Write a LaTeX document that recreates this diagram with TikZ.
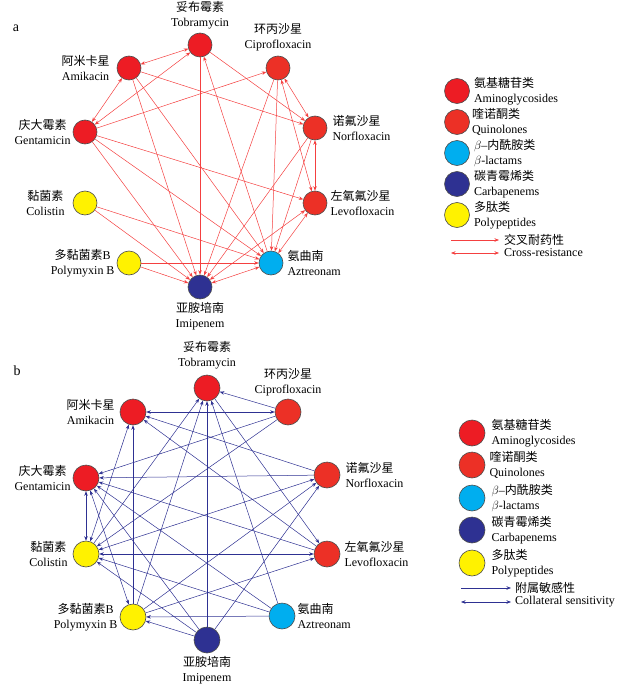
\documentclass[tikz,border=0pt]{standalone}
\usepackage{fontspec}
\setmainfont{Liberation Serif}
\newfontfamily\cjk{Noto Sans CJK SC}
\usepackage{tikz}
\usetikzlibrary{arrows.meta, positioning}
\definecolor{amino}{RGB}{237,28,36}
\definecolor{quino}{RGB}{236,48,38}
\definecolor{blact}{RGB}{0,174,239}
\definecolor{carba}{RGB}{46,49,146}
\definecolor{poly}{RGB}{255,242,0}
\definecolor{crossred}{RGB}{244,64,64}
\definecolor{sensblue}{RGB}{46,49,146}
\tikzstyle{drug} = [circle, draw=black!70, line width=0.6pt, minimum size=24pt, inner sep=0pt]
\tikzstyle{drugb} = [drug, minimum size=26pt]
\tikzstyle{lbl} = [align=center, inner sep=1pt, font=\fontsize{12}{15}\selectfont]
\tikzstyle{lblr} = [lbl, align=left]
\tikzstyle{crossarr} = [draw=crossred, line width=0.5pt, >={Stealth[length=4.5pt,width=3.5pt]}]
\tikzstyle{sensarr} = [draw=sensblue, line width=0.5pt, >={Stealth[length=4.5pt,width=3.5pt]}]

\begin{document}
\begin{tikzpicture}[x=1pt, y=-1pt]
  \useasboundingbox (0,0) rectangle (623,690);

  % 图 a：交叉耐药性
  \node[font=\fontsize{14}{14}\selectfont] (tagA) at (16,28) {a};
  \node[drug, fill=amino] (tobA) at (200,45) {};
  \node[drug, fill=quino] (cipA) at (278,68) {};
  \node[drug, fill=amino] (amiA) at (129,68) {};
  \node[drug, fill=quino] (norA) at (315,128) {};
  \node[drug, fill=amino] (genA) at (85,132) {};
  \node[drug, fill=quino] (levA) at (315,203) {};
  \node[drug, fill=poly] (colA) at (85,203) {};
  \node[drug, fill=poly] (polA) at (129,263) {};
  \node[drug, fill=blact] (aztA) at (271,263) {};
  \node[drug, fill=carba] (imiA) at (200,287) {};

  \node[lbl, above=2pt of tobA] (tobAl) {{\cjk 妥布霉素}\\Tobramycin};
  \node[lbl, above=3pt of cipA] (cipAl) {{\cjk 环丙沙星}\\Ciprofloxacin};
  \node[lbl, left=6pt of amiA] (amiAl) {{\cjk 阿米卡星}\\Amikacin};
  \node[lbl, left=1pt of genA] (genAl) {{\cjk 庆大霉素}\\Gentamicin};
  \node[lbl, left=7pt of colA] (colAl) {{\cjk 黏菌素}\\Colistin};
  \node[lbl, left=1pt of polA] (polAl) {{\cjk 多黏菌素}B\\Polymyxin B};
  \node[lbl, below=2pt of imiA] (imiAl) {{\cjk 亚胺培南}\\Imipenem};
  \node[lblr, right=3pt of aztA] (aztAl) {{\cjk 氨曲南}\\Aztreonam};
  \node[lblr, right=2pt of levA] (levAl) {{\cjk 左氧氟沙星}\\Levofloxacin};
  \node[lblr, right=4pt of norA] (norAl) {{\cjk 诺氟沙星}\\Norfloxacin};

  % 图 a 箭头
  \draw[crossarr, <->] (amiA) -- (tobA);
  \draw[crossarr, <->] (amiA) -- (genA);
  \draw[crossarr, <->] (tobA) -- (genA);
  \draw[crossarr, ->] (amiA) -- (norA);
  \draw[crossarr, ->] (amiA) -- (imiA);
  \draw[crossarr, ->] (amiA) -- (aztA);
  \draw[crossarr, ->] (tobA) -- (norA);
  \draw[crossarr, ->] (tobA) -- (imiA);
  \draw[crossarr, ->] (aztA) -- (tobA);
  \draw[crossarr, ->] (genA) -- (cipA);
  \draw[crossarr, ->] (genA) -- (levA);
  \draw[crossarr, ->] (genA) -- (imiA);
  \draw[crossarr, ->] (genA) -- (aztA);
  \draw[crossarr, <->] (cipA) -- (norA);
  \draw[crossarr, <->] (cipA) -- (levA);
  \draw[crossarr, ->] (cipA) -- (imiA);
  \draw[crossarr, ->] (cipA) -- (aztA);
  \draw[crossarr, <->] (norA) -- (levA);
  \draw[crossarr, ->] (norA) -- (imiA);
  \draw[crossarr, ->] (norA) -- (aztA);
  \draw[crossarr, <->] (levA) -- (aztA);
  \draw[crossarr, <->] (levA) -- (imiA);
  \draw[crossarr, ->] (colA) -- (imiA);
  \draw[crossarr, ->] (colA) -- (aztA);
  \draw[crossarr, ->] (polA) -- (aztA);
  \draw[crossarr, ->] (polA) -- (imiA);
  \draw[crossarr, <->] (aztA) -- (imiA);

  % 图 a 图例
  \node[drug, minimum size=25pt, fill=amino] (legA1) at (457,91) {};
  \node[drug, minimum size=25pt, fill=quino] (legA2) at (457,122) {};
  \node[drug, minimum size=25pt, fill=blact] (legA3) at (457,153) {};
  \node[drug, minimum size=25pt, fill=carba] (legA4) at (457,184) {};
  \node[drug, minimum size=25pt, fill=poly] (legA5) at (457,215) {};
  \node[lblr, right=3pt of legA1] {{\cjk 氨基糖苷类}\\Aminoglycosides};
  \node[lblr, right=1pt of legA2] {{\cjk 喹诺酮类}\\Quinolones};
  \node[lblr, right=3pt of legA3] {$\beta$–{\cjk 内酰胺类}\\$\beta$-lactams};
  \node[lblr, right=3pt of legA4] {{\cjk 碳青霉烯类}\\Carbapenems};
  \node[lblr, right=3pt of legA5] {{\cjk 多肽类}\\Polypeptides};
  \coordinate (arA1) at (451,240);
  \coordinate (arA2) at (499,240);
  \coordinate (arA3) at (451,253);
  \coordinate (arA4) at (499,253);
  \draw[crossarr, ->] (arA1) -- (arA2);
  \draw[crossarr, <->] (arA3) -- (arA4);
  \node[lbl, anchor=west] at (503,240) {\cjk 交叉耐药性};
  \node[lbl, anchor=west] at (503,253) {Cross-resistance};

  % 图 b：附属敏感性
  \node[font=\fontsize{14}{14}\selectfont] (tagB) at (17,371) {b};
  \node[drugb, fill=amino] (tobB) at (207,388) {};
  \node[drugb, fill=quino] (cipB) at (288,412) {};
  \node[drugb, fill=amino] (amiB) at (133,412) {};
  \node[drugb, fill=quino] (norB) at (327,475) {};
  \node[drugb, fill=amino] (genB) at (86,478) {};
  \node[drugb, fill=quino] (levB) at (327,554) {};
  \node[drugb, fill=poly] (colB) at (86,554) {};
  \node[drugb, fill=poly] (polB) at (133,617) {};
  \node[drugb, fill=blact] (aztB) at (282,616) {};
  \node[drugb, fill=carba] (imiB) at (207,640) {};

  \node[lbl, above=4pt of tobB] (tobBl) {{\cjk 妥布霉素}\\Tobramycin};
  \node[lbl, above=1pt of cipB] (cipBl) {{\cjk 环丙沙星}\\Ciprofloxacin};
  \node[lbl, left=4pt of amiB] (amiBl) {{\cjk 阿米卡星}\\Amikacin};
  \node[lbl, left=1pt of genB] (genBl) {{\cjk 庆大霉素}\\Gentamicin};
  \node[lbl, left=4pt of colB] (colBl) {{\cjk 黏菌素}\\Colistin};
  \node[lbl, left=1pt of polB] (polBl) {{\cjk 多黏菌素}B\\Polymyxin B};
  \node[lbl, below=2pt of imiB] (imiBl) {{\cjk 亚胺培南}\\Imipenem};
  \node[lblr, right=1pt of aztB] (aztBl) {{\cjk 氨曲南}\\Aztreonam};
  \node[lblr, right=3pt of levB] (levBl) {{\cjk 左氧氟沙星}\\Levofloxacin};
  \node[lblr, right=4pt of norB] (norBl) {{\cjk 诺氟沙星}\\Norfloxacin};

  % 图 b 箭头
  \draw[sensarr, ->] (cipB) -- (tobB);
  \draw[sensarr, <->] (cipB) -- (amiB);
  \draw[sensarr, ->] (norB) -- (amiB);
  \draw[sensarr, ->] (levB) -- (amiB);
  \draw[sensarr, <->] (colB) -- (amiB);
  \draw[sensarr, ->] (polB) -- (amiB);
  \draw[sensarr, ->] (cipB) -- (genB);
  \draw[sensarr, ->] (norB) -- (genB);
  \draw[sensarr, ->] (levB) -- (genB);
  \draw[sensarr, ->] (aztB) -- (genB);
  \draw[sensarr, ->] (imiB) -- (genB);
  \draw[sensarr, <->] (genB) -- (colB);
  \draw[sensarr, <->] (genB) -- (polB);
  \draw[sensarr, ->] (cipB) -- (colB);
  \draw[sensarr, ->] (colB) -- (tobB);
  \draw[sensarr, ->] (polB) -- (tobB);
  \draw[sensarr, ->] (imiB) -- (tobB);
  \draw[sensarr, ->] (aztB) -- (tobB);
  \draw[sensarr, ->] (tobB) -- (levB);
  \draw[sensarr, <->] (colB) -- (norB);
  \draw[sensarr, ->] (imiB) -- (norB);
  \draw[sensarr, ->] (polB) -- (norB);
  \draw[sensarr, ->] (polB) -- (levB);
  \draw[sensarr, <->] (levB) -- (colB);
  \draw[sensarr, ->] (aztB) -- (colB);
  \draw[sensarr, ->] (imiB) -- (colB);
  \draw[sensarr, ->] (aztB) -- (polB);
  \draw[sensarr, ->] (imiB) -- (polB);

  % 图 b 图例
  \node[drugb, fill=amino] (legB1) at (472,433) {};
  \node[drugb, fill=quino] (legB2) at (472,465) {};
  \node[drugb, fill=blact] (legB3) at (472,498) {};
  \node[drugb, fill=carba] (legB4) at (472,530) {};
  \node[drugb, fill=poly] (legB5) at (472,563) {};
  \node[lblr, right=5pt of legB1] {{\cjk 氨基糖苷类}\\Aminoglycosides};
  \node[lblr, right=3pt of legB2] {{\cjk 喹诺酮类}\\Quinolones};
  \node[lblr, right=5pt of legB3] {$\beta$–{\cjk 内酰胺类}\\$\beta$-lactams};
  \node[lblr, right=5pt of legB4] {{\cjk 碳青霉烯类}\\Carbapenems};
  \node[lblr, right=5pt of legB5] {{\cjk 多肽类}\\Polypeptides};
  \coordinate (arB1) at (461,588);
  \coordinate (arB2) at (511,588);
  \coordinate (arB3) at (461,602);
  \coordinate (arB4) at (511,602);
  \draw[sensarr, ->] (arB1) -- (arB2);
  \draw[sensarr, <->] (arB3) -- (arB4);
  \node[lbl, anchor=west] at (514,588) {\cjk 附属敏感性};
  \node[lbl, anchor=west] at (514,602) {Collateral sensitivity};
\end{tikzpicture}
\end{document}
